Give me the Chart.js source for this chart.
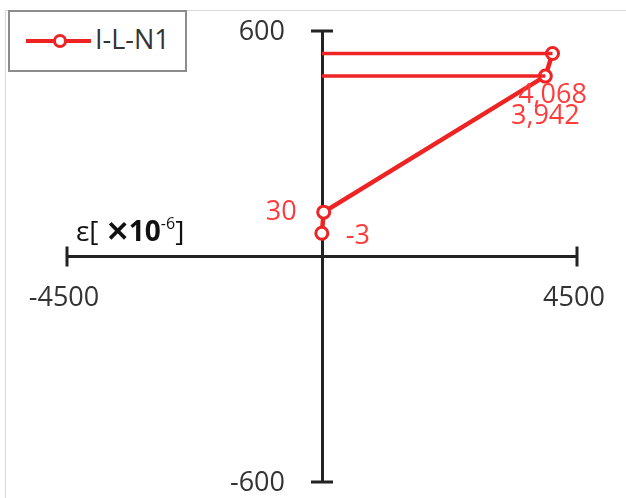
<!DOCTYPE html>
<html>
<head>
<meta charset="utf-8">
<script src="https://cdn.jsdelivr.net/npm/chart.js@4.4.1/dist/chart.umd.min.js"></script>
<style>
  html, body { margin: 0; padding: 0; background: #fff; overflow: hidden; }
  #wrap { position: relative; width: 626px; height: 498px; }
  #frame { position: absolute; left: 5px; top: 10px; width: 700px; height: 600px;
           border-left: 1px solid #d9d9d9; border-top: 1px solid #d9d9d9; }
  #legend { position: absolute; left: 8px; top: 10px; width: 175px; height: 58px;
            border: 2px solid #8c8c8c; background: #fff;
            font-family: "Open Sans", sans-serif; font-size: 27px; color: #333; }
  #legend .line { position: absolute; left: 16px; top: 27px; width: 65px; height: 4px; background: #ee2424; }
  #legend .dot { position: absolute; left: 43px; top: 22px; width: 8px; height: 8px;
                 border: 3px solid #ee2424; border-radius: 50%; background: #fff; }
  #legend .txt { position: absolute; left: 85px; top: 8px; }
  #xtitle { position: absolute; left: 76px; top: 211px; font-family: "Open Sans", sans-serif;
            font-size: 28px; color: #111; white-space: nowrap; }
  #xtitle b { font-weight: 700; }
  #xtitle sup { font-size: 16px; vertical-align: 12px; }
  canvas { position: absolute; left: 0; top: 0; }
</style>
</head>
<body>
<div id="wrap">
  <div id="frame"></div>
  <canvas id="strainChart" width="626" height="498"></canvas>
  <div id="legend"><span class="line"></span><span class="dot"></span><span class="txt">I-L-N1</span></div>
  <div id="xtitle">ε[ <b>✕10</b><sup>-6</sup>]</div>
</div>
<script>
// strain (x1e-6) vs load readings for I-L-N1
const seriesName = 'I-L-N1';
const strainX = [-3, 30, 3942, 4068];
const loadY = [62, 118, 480, 540];
const pointLabels = ['-3', '30', '3,942', '4,068'];
const xTicks = [-4500, 4500];
const yTicks = [-600, 600];

const RED = '#ee2424';
const LABEL_RED = '#ff3c3c';
const TICK_FONT = '27px "Open Sans", sans-serif';

// horizontal guides from the y axis to the two top points
const guideHigh = [{ x: 0, y: loadY[3] }, { x: strainX[3], y: loadY[3] }];
const guideLow = [{ x: 0, y: loadY[2] }, { x: strainX[2], y: loadY[2] }];

// tick marks crossing the axes + their labels
const crossTicks = {
  id: 'crossTicks',
  afterDraw(chart) {
    const { ctx, scales: { x, y } } = chart;
    const x0 = x.getPixelForValue(0);
    const y0 = y.getPixelForValue(0);
    ctx.save();
    ctx.strokeStyle = '#222';
    ctx.lineWidth = 3;
    ctx.beginPath();
    xTicks.forEach(v => {
      const px = x.getPixelForValue(v);
      ctx.moveTo(px, y0 - 10);
      ctx.lineTo(px, y0 + 10);
    });
    yTicks.forEach(v => {
      const py = y.getPixelForValue(v);
      ctx.moveTo(x0 - 11, py);
      ctx.lineTo(x0 + 11, py);
    });
    ctx.stroke();

    ctx.font = TICK_FONT;
    ctx.fillStyle = '#333';
    ctx.textBaseline = 'middle';
    ctx.textAlign = 'center';
    xTicks.forEach(v => ctx.fillText(String(v), x.getPixelForValue(v) - 3, y0 + 42));
    ctx.textAlign = 'right';
    yTicks.forEach(v => ctx.fillText(String(v), x0 - 37, y.getPixelForValue(v) + 1));
    ctx.restore();
  }
};

// value labels next to the points
const pointText = {
  id: 'pointText',
  afterDatasetsDraw(chart) {
    const { ctx } = chart;
    const meta = chart.getDatasetMeta(2);
    // where each label sits relative to its point
    const place = [
      { dx: 24, dy: 3, align: 'left' },
      { dx: -27, dy: 0, align: 'right' },
      { dx: 0, dy: 40, align: 'center' },
      { dx: 0, dy: 42, align: 'center' }
    ];
    ctx.save();
    ctx.font = '27px "Open Sans", sans-serif';
    ctx.fillStyle = LABEL_RED;
    ctx.textBaseline = 'middle';
    meta.data.forEach((pt, i) => {
      const p = place[i];
      ctx.textAlign = p.align;
      ctx.fillText(pointLabels[i], pt.x + p.dx, pt.y + p.dy);
    });
    ctx.restore();
  }
};

const ctx = document.getElementById('strainChart').getContext('2d');
new Chart(ctx, {
  type: 'scatter',
  data: {
    datasets: [
      { data: guideHigh, showLine: true, borderColor: RED, borderWidth: 3.5, pointRadius: 0 },
      { data: guideLow, showLine: true, borderColor: RED, borderWidth: 3.5, pointRadius: 0 },
      {
        label: seriesName,
        data: strainX.map((v, i) => ({ x: v, y: loadY[i] })),
        showLine: true,
        borderColor: RED,
        borderWidth: 4.5,
        pointRadius: 6,
        pointBorderWidth: 3,
        pointBackgroundColor: '#fff',
        pointBorderColor: RED
      }
    ]
  },
  options: {
    responsive: false,
    animation: false,
    layout: { padding: { left: 67, right: 49, top: 31, bottom: 16 } },
    plugins: { legend: { display: false }, tooltip: { enabled: false } },
    scales: {
      x: {
        type: 'linear',
        min: -4500,
        max: 4500,
        position: { y: 0 },
        afterBuildTicks: s => { s.ticks = xTicks.map(v => ({ value: v })); },
        ticks: { display: false },
        grid: { display: false, drawTicks: false },
        border: { display: true, color: '#222', width: 3 }
      },
      y: {
        type: 'linear',
        min: -600,
        max: 600,
        position: { x: 0 },
        afterBuildTicks: s => { s.ticks = yTicks.map(v => ({ value: v })); },
        ticks: { display: false },
        grid: { display: false, drawTicks: false },
        border: { display: true, color: '#222', width: 3 }
      }
    }
  },
  plugins: [crossTicks, pointText]
});
</script>
</body>
</html>
